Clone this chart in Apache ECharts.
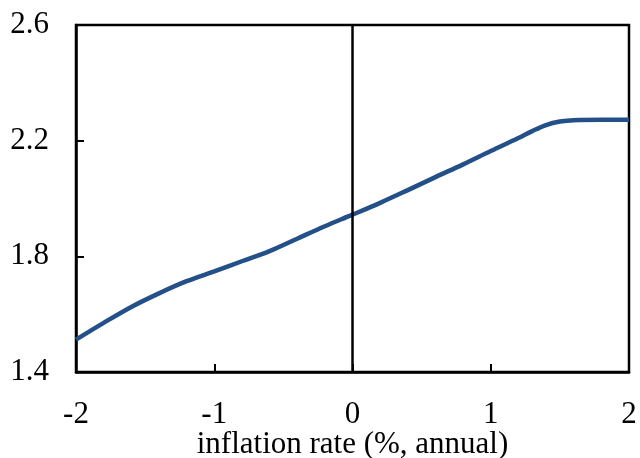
<!DOCTYPE html>
<html>
<head>
<meta charset="utf-8">
<script src="https://cdn.jsdelivr.net/npm/echarts@6/dist/echarts.min.js"></script>
<style>html,body{margin:0;padding:0;background:#fff}#c{width:640px;height:458px}</style>
</head>
<body>
<div id="c"></div>
<script>
var xValues = [-2.0,-1.8,-1.6,-1.4,-1.2,-1.0,-0.8,-0.6,-0.4,-0.2,0.0,0.2,0.4,0.6,0.8,1.0,1.2,1.3,1.4,1.5,1.6,1.8,2.0];
var yValues = [1.512,1.570,1.625,1.672,1.714,1.748,1.783,1.818,1.861,1.904,1.944,1.985,2.029,2.074,2.118,2.164,2.209,2.233,2.254,2.266,2.271,2.272,2.272];
var yTickLabels = [1.4,1.8,2.2,2.6];
var xTickLabels = [-2,-1,0,1,2];
var xAxisName = 'inflation rate (%, annual)';

var font = '"Liberation Serif","Times New Roman",serif';
var chart = echarts.init(document.getElementById('c'), null, {renderer:'canvas'});
chart.setOption({
  animation:false,
  grid:{left:76,right:11,top:25,bottom:86,containLabel:false,outerBoundsMode:'none',show:true,borderColor:'#000',borderWidth:2.5,backgroundColor:'transparent'},
  xAxis:{
    type:'value',min:-2,max:2,interval:1,
    name:xAxisName,nameLocation:'middle',nameGap:57,nameMoveOverlap:false,
    nameTextStyle:{fontFamily:font,fontSize:31,color:'#000'},
    axisLine:{show:true,onZero:false,lineStyle:{color:'#000',width:2.5}},
    axisTick:{show:true,inside:true,length:8,lineStyle:{color:'#000',width:2}},
    axisLabel:{customValues:xTickLabels,margin:27,fontFamily:font,fontSize:31,color:'#000',formatter:function(v){return String(v);}},
    splitLine:{show:false}
  },
  yAxis:{
    type:'value',min:1.4,max:2.6,
    axisLine:{show:true,onZero:false,lineStyle:{color:'#000',width:2.5}},
    axisTick:{show:true,inside:true,length:8,customValues:yTickLabels,lineStyle:{color:'#000',width:2}},
    axisLabel:{customValues:yTickLabels,margin:27,fontFamily:font,fontSize:31,color:'#000',formatter:function(v){return v.toFixed(1);}},
    splitLine:{show:false}
  },
  series:[{
    type:'line',
    data:xValues.map(function(x,i){return [x,yValues[i]];}),
    showSymbol:false,smooth:0.35,
    lineStyle:{color:'#245089',width:4.5},
    markLine:{silent:true,symbol:['none','none'],label:{show:false},
      lineStyle:{color:'#000',width:2.5,type:'solid'},
      data:[{xAxis:0}]}
  }]
});
</script>
</body>
</html>
